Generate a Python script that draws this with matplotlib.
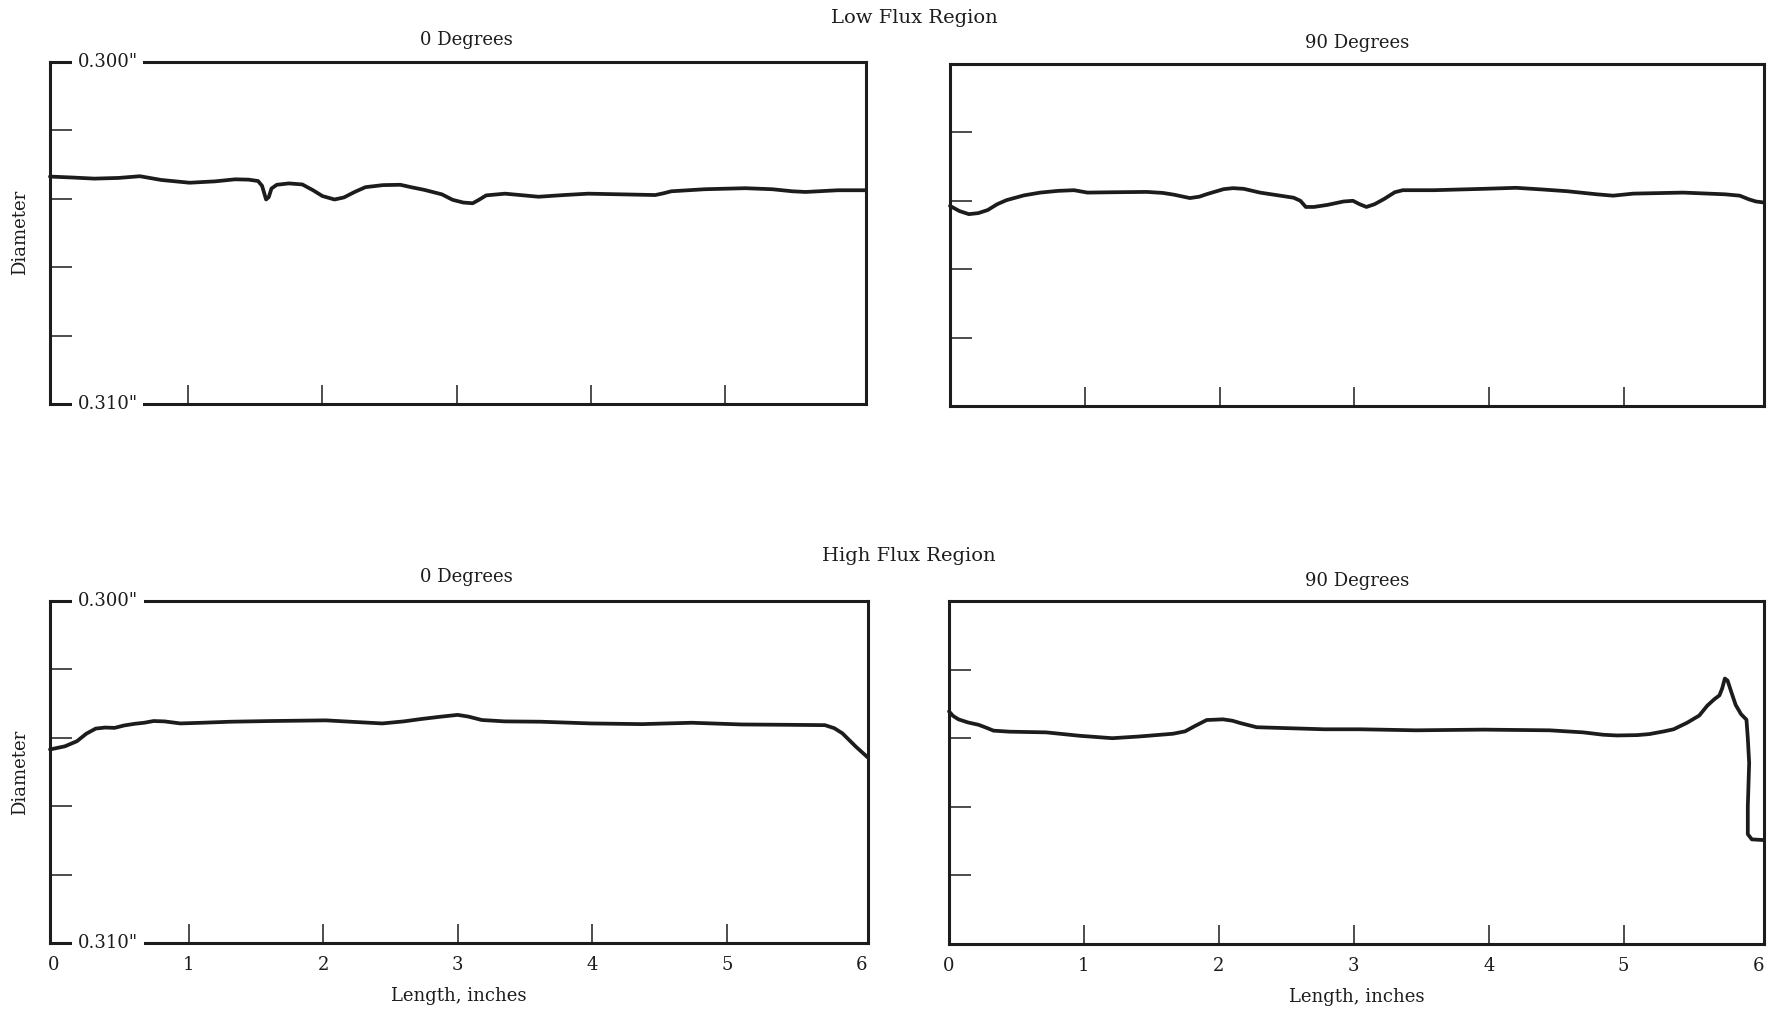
import numpy as np
import matplotlib.pyplot as plt
from matplotlib.transforms import blended_transform_factory

# --- data (length in inches, diameter in inches) ---
low0_x = [-0.03, 0.15, 0.30, 0.48, 0.64, 0.80, 1.01, 1.20, 1.35, 1.45, 1.52, 1.55,
          1.58, 1.60, 1.62, 1.66, 1.75, 1.85, 1.93, 2.00, 2.09, 2.16, 2.24, 2.32,
          2.45, 2.58, 2.66, 2.76, 2.89, 2.97, 3.05, 3.12, 3.17, 3.22, 3.36, 3.50,
          3.61, 3.80, 3.98, 4.23, 4.48, 4.54, 4.60, 4.85, 5.15, 5.35, 5.50, 5.60,
          5.84, 6.05]
low0_d = [0.30335, 0.30338, 0.30341, 0.30339, 0.30334, 0.30345, 0.30353, 0.30349,
          0.30343, 0.30344, 0.30348, 0.30362, 0.30402, 0.30395, 0.30370, 0.30359,
          0.30355, 0.30358, 0.30375, 0.30392, 0.30402, 0.30396, 0.30380, 0.30366,
          0.30360, 0.30359, 0.30366, 0.30374, 0.30387, 0.30403, 0.30411, 0.30413,
          0.30402, 0.30390, 0.30385, 0.30390, 0.30394, 0.30389, 0.30385, 0.30387,
          0.30389, 0.30384, 0.30378, 0.30372, 0.30369, 0.30372, 0.30378, 0.30380,
          0.30375, 0.30375]

low90_x = [0.00, 0.07, 0.14, 0.21, 0.28, 0.35, 0.42, 0.55, 0.67, 0.80, 0.92, 1.02,
           1.21, 1.46, 1.58, 1.66, 1.78, 1.85, 1.91, 2.03, 2.10, 2.18, 2.30, 2.45,
           2.55, 2.60, 2.64, 2.70, 2.80, 2.92, 2.99, 3.04, 3.09, 3.15, 3.22, 3.30,
           3.36, 3.59, 3.96, 4.20, 4.40, 4.58, 4.80, 4.92, 5.07, 5.44, 5.75, 5.86,
           5.93, 5.98, 6.04]
low90_d = [0.30415, 0.30430, 0.30439, 0.30436, 0.30427, 0.30410, 0.30398, 0.30384,
           0.30376, 0.30371, 0.30369, 0.30376, 0.30375, 0.30374, 0.30377, 0.30382,
           0.30392, 0.30388, 0.30380, 0.30366, 0.30363, 0.30365, 0.30376, 0.30385,
           0.30391, 0.30400, 0.30418, 0.30418, 0.30412, 0.30402, 0.30400, 0.30410,
           0.30418, 0.30410, 0.30395, 0.30375, 0.30369, 0.30369, 0.30365, 0.30362,
           0.30367, 0.30372, 0.30381, 0.30385, 0.30379, 0.30376, 0.30381, 0.30385,
           0.30396, 0.30402, 0.30405]

high0_x = [-0.03, 0.08, 0.17, 0.24, 0.31, 0.38, 0.45, 0.52, 0.60, 0.67, 0.74, 0.82,
           0.94, 1.10, 1.31, 1.60, 2.02, 2.25, 2.44, 2.60, 2.73, 2.88, 3.00, 3.08,
           3.18, 3.35, 3.62, 3.99, 4.37, 4.74, 5.11, 5.45, 5.73, 5.80, 5.86, 5.96,
           6.05]
high0_d = [0.30434, 0.30425, 0.30410, 0.30388, 0.30373, 0.30370, 0.30371, 0.30364,
           0.30359, 0.30356, 0.30351, 0.30352, 0.30358, 0.30356, 0.30353, 0.30351,
           0.30349, 0.30354, 0.30358, 0.30352, 0.30345, 0.30338, 0.30333, 0.30338,
           0.30348, 0.30352, 0.30353, 0.30358, 0.30360, 0.30356, 0.30361, 0.30362,
           0.30363, 0.30372, 0.30387, 0.30426, 0.30458]

high90_x = [0.00, 0.03, 0.07, 0.14, 0.22, 0.28, 0.33, 0.45, 0.72, 0.97, 1.21, 1.41,
            1.66, 1.75, 1.82, 1.91, 2.03, 2.10, 2.16, 2.28, 2.53, 2.78, 3.05, 3.46,
            3.96, 4.45, 4.70, 4.85, 4.95, 5.10, 5.19, 5.30, 5.37, 5.47, 5.56, 5.62,
            5.67, 5.71, 5.73, 5.75, 5.77, 5.80, 5.83, 5.87, 5.91, 5.92, 5.93, 5.92,
            5.92, 5.95, 6.04]
high90_d = [0.30322, 0.30335, 0.30345, 0.30354, 0.30361, 0.30370, 0.30378, 0.30381,
            0.30383, 0.30393, 0.30400, 0.30395, 0.30387, 0.30380, 0.30365, 0.30347,
            0.30345, 0.30349, 0.30356, 0.30368, 0.30371, 0.30374, 0.30374, 0.30377,
            0.30375, 0.30377, 0.30383, 0.30390, 0.30392, 0.30391, 0.30388, 0.30380,
            0.30374, 0.30355, 0.30334, 0.30305, 0.30287, 0.30275, 0.30255, 0.30226,
            0.30232, 0.30268, 0.30303, 0.30330, 0.30346, 0.30400, 0.30472, 0.30600,
            0.30680, 0.30695, 0.30697]

x_ticks = [0, 1, 2, 3, 4, 5, 6]
y_ticks = [0.300, 0.302, 0.304, 0.306, 0.308, 0.310]

plt.rcParams['font.family'] = 'DejaVu Serif'
ink = '#1c1c1c'
W, H = 1778, 1013
fig = plt.figure(figsize=(W / 100, H / 100), dpi=100)


def rect(l, t, r, b):
    return [l / W, 1 - b / H, (r - l) / W, (b - t) / H]


panels = [
    (rect(50, 62, 866, 404), (-0.03, 6.05), low0_x, low0_d, True, False),
    (rect(950, 64, 1764, 406), (0, 6.04), low90_x, low90_d, False, False),
    (rect(50, 601, 868, 943), (-0.03, 6.05), high0_x, high0_d, True, True),
    (rect(949, 601, 1764, 944), (0, 6.04), high90_x, high90_d, False, True),
]

for pos, xlim, xs, ds, left_col, bottom_row in panels:
    ax = fig.add_axes(pos)
    ax.plot(xs, ds, color=ink, lw=2.7, solid_joinstyle='round',
            solid_capstyle='round', clip_on=False)
    ax.set_xlim(*xlim)
    ax.set_ylim(0.310, 0.300)
    ax.set_xticks(x_ticks)
    ax.set_yticks(y_ticks)
    ax.set_yticklabels([])
    for s in ax.spines.values():
        s.set_linewidth(2.2)
        s.set_color(ink)
    ax.tick_params(axis='y', direction='in', length=16, width=1.1, color=ink)
    ax.tick_params(axis='x', direction='in', length=14, width=1.1, color=ink,
                   labelbottom=bottom_row, labelsize=13, pad=9, labelcolor=ink)
    # end ticks sit on the spines, only their labels show
    for t in (ax.xaxis.get_major_ticks()[0], ax.xaxis.get_major_ticks()[-1]):
        t.tick1line.set_visible(False)
    if left_col:
        tr = blended_transform_factory(ax.transAxes, ax.transData)
        for val, lab in [(0.300, '0.300"'), (0.310, '0.310"')]:
            ax.text(0.034, val, lab, transform=tr, ha='left', va='center',
                    fontsize=13, color=ink, clip_on=False,
                    bbox=dict(facecolor='white', edgecolor='none', pad=4))


def ftext(x, y, s, size=13, **kw):
    fig.text(x / W, 1 - y / H, s, ha='center', va='center', fontsize=size, color=ink, **kw)


ftext(914, 18, 'Low Flux Region', size=14)
ftext(466, 40, '0 Degrees')
ftext(1357, 43, '90 Degrees')
ftext(909, 556, 'High Flux Region', size=14)
ftext(466, 577, '0 Degrees')
ftext(1357, 581, '90 Degrees')
ftext(20, 232, 'Diameter', rotation=90)
ftext(20, 772, 'Diameter', rotation=90)
ftext(459, 996, 'Length, inches')
ftext(1357, 997, 'Length, inches')

fig.savefig('out.png', dpi=100)
